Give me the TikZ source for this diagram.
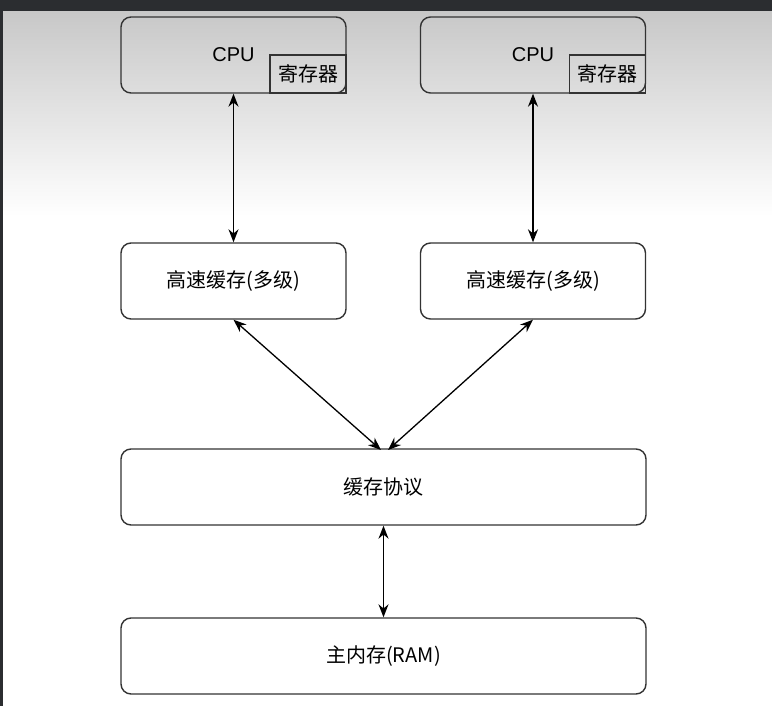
\documentclass[tikz,border=0pt]{standalone}
\usepackage{fontspec}
\setmainfont{Liberation Sans}
\newfontfamily\cjk{Noto Sans CJK SC}
\usetikzlibrary{arrows.meta,positioning}
\definecolor{frame}{HTML}{2B2D30}
\definecolor{topgrey}{HTML}{C8C8C8}
\definecolor{edge}{HTML}{333333}
\tikzset{
  box/.style={draw=edge, line width=1.4pt, rounded corners=10pt, fill=white,
    minimum height=76pt, inner sep=0pt, font=\cjk\fontsize{20}{23}\selectfont},
  cpubox/.style={box, fill=none, minimum width=225pt, font=\fontsize{20}{23}\selectfont},
  regbox/.style={draw=edge, line width=1.4pt, minimum width=76pt, minimum height=38pt,
    inner sep=0pt, font=\cjk\fontsize{20}{23}\selectfont},
  link/.style={{Stealth[length=13pt,width=10pt]}-{Stealth[length=13pt,width=10pt]},
    line width=1.3pt, black}
}
\begin{document}
\begin{tikzpicture}[x=1pt,y=-1pt]
  % window frame and backdrop
  \fill[frame] (0,0) rectangle (772,706);
  \fill[white] (3,215) rectangle (772,706);
  \shade[top color=topgrey, bottom color=white] (3,12) rectangle (772,216);
  \useasboundingbox (0,0) rectangle (772,706);

  % processors with their registers
  \node[cpubox] (cpu1) at (233.5,55) {CPU};
  \node[regbox, anchor=south east] (reg1) at (cpu1.south east) {寄存器};
  \node[cpubox] (cpu2) at (533,55) {CPU};
  \node[regbox, anchor=south east] (reg2) at (cpu2.south east) {寄存器};

  % caches, coherence protocol, main memory
  \node[box, minimum width=225pt] (cache1) at (233.5,281) {高速缓存(多级)};
  \node[box, minimum width=225pt] (cache2) at (533,281) {高速缓存(多级)};
  \node[box, minimum width=525pt] (proto) at (383.5,487) {缓存协议};
  \node[box, minimum width=525pt] (ram) at (383.5,656) {主内存(RAM)};

  \coordinate (pL) at (381,450);
  \coordinate (pR) at (388,450);

  \draw[link] (cpu1.south -| cache1) -- (cache1.north);
  \draw[link] (cpu2.south -| cache2) -- (cache2.north);
  \draw[link] (cache1.south) -- (pL);
  \draw[link] (cache2.south) -- (pR);
  \draw[link] (proto.south) -- (ram.north);
\end{tikzpicture}
\end{document}
